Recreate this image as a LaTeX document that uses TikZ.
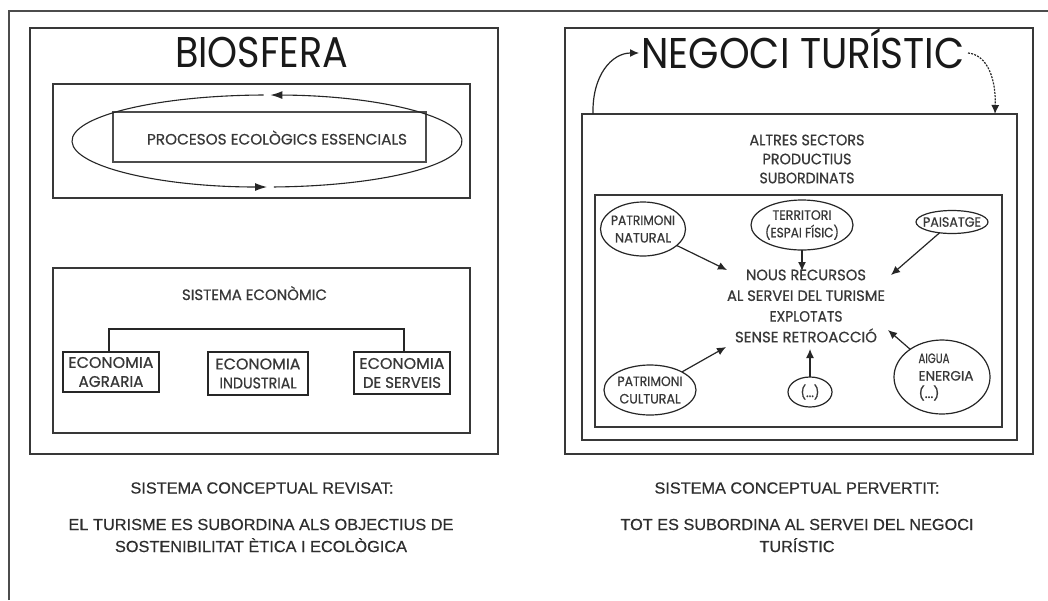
\documentclass[tikz,border=0pt]{standalone}
\usepackage{graphicx}
\usepackage{fontspec}
\setmainfont{Liberation Sans}
\newfontfamily\capfont[FakeBold=0.5]{Liberation Sans}
\newfontfamily\geoT{Poppins}
\newfontfamily\geo[FakeBold=0.6]{Poppins}
\newcommand{\fw}[2]{\resizebox{#1pt}{\height}{#2}}
\usetikzlibrary{arrows.meta,shapes.geometric,calc}
\begin{document}
\begin{tikzpicture}[x=1pt,y=1pt,
  frame/.style={draw=black!78, line width=1.6pt, inner sep=0pt, outer sep=0pt},
  smallbox/.style={draw=black!85, line width=1.4pt, inner sep=0pt, outer sep=0pt, align=center,
     font=\geo\fontsize{15.5}{19}\selectfont, text=black!78},
  ell/.style={draw=black!85, ellipse, line width=1.2pt, inner sep=0pt, outer sep=0pt},
  etxt/.style={font=\geo\fontsize{13.5}{17.5}\selectfont, text=black!78, align=center, inner sep=0pt},
  mtxt/.style={font=\geo\fontsize{15}{16}\selectfont, text=black!78, align=center, inner sep=0pt},
  bigtitle/.style={font=\geoT\fontsize{43}{46}\selectfont, text=black!90, inner sep=1pt},
  captxt/.style={font=\capfont\fontsize{16}{22}\selectfont, text=black!82, align=center, inner sep=0pt},
  arr/.style={line width=1.2pt, draw=black!85, -{Latex[length=9pt,width=8pt]}},
  looparr/.style={line width=1.1pt, draw=black!85, -{Latex[length=12pt,width=8pt]}}]
\useasboundingbox (0,0) rectangle (1048,-600);
\fill[white] (0,0) rectangle (1048,-600);
% outer frame
\draw[black!70, line width=1.8pt] (9,-600) -- (9,-11) -- (1048,-11);

% ---------- left ----------
\node[frame, minimum width=468, minimum height=426] (lbox) at (264,-241) {};
\node[bigtitle, anchor=base] (bio) at (261.5,-67) {\fw{173}{BIOSFERA}};
\node[frame, minimum width=417, minimum height=114] (upbox) at (261.5,-141) {};
\node[draw=black!70, line width=1.2pt, inner sep=0pt, minimum width=313, minimum height=50] (proc) at (269.5,-137) {};
\node[mtxt, anchor=base] (proctxt) at (277,-144.5) {\fw{260}{PROCESOS ECOLÒGICS ESSENCIALS}};
\coordinate (ec) at (267,-141);
\draw[looparr] ($(ec)+(-88:195 and 46)$) arc[start angle=-88, end angle=89, x radius=195, y radius=46];
\draw[looparr] ($(ec)+(91:195 and 46)$) arc[start angle=91, end angle=270, x radius=195, y radius=46];

\node[frame, minimum width=417, minimum height=165] (sysbox) at (261.5,-350.5) {};
\node[mtxt, anchor=base] (sis) at (254.5,-300) {\fw{145}{SISTEMA ECONÒMIC}};
\node[smallbox, minimum width=96, minimum height=40] (agr) at (111,-372) {\fw{85}{ECONOMIA}\\\fw{65}{AGRARIA}};
\node[smallbox, minimum width=100, minimum height=43] (ind) at (258,-373.5) {\fw{85}{ECONOMIA}\\\fw{77}{INDUSTRIAL}};
\node[smallbox, minimum width=96, minimum height=42] (ser) at (402,-373) {\fw{85}{ECONOMIA}\\\fw{78}{DE SERVEIS}};
\draw[black!85, line width=1.3pt] ($(sis.south)+(1.5,-3)$) -- ($(sis.south)+(1.5,-3)$ |- ind.north);
\draw[black!85, line width=1.1pt] ($(agr.north)+(-2,0)$) -- ++(0,23) -| ($(ser.north)+(2,0)$);

\node[captxt] (c1) at (262,-488) {\fw{263}{SISTEMA CONCEPTUAL REVISAT:}};
\node[captxt] (c2) at (261,-535.5) {\fw{385}{EL TURISME ES SUBORDINA ALS OBJECTIUS DE}\\\fw{292}{SOSTENIBILITAT ÈTICA I ECOLÒGICA}};

% ---------- right ----------
\node[frame, minimum width=468, minimum height=426] (rbox) at (799,-241) {};
\node[frame, minimum width=435, minimum height=326] (mbox) at (799.5,-277) {};
\node[frame, minimum width=407, minimum height=232] (ibox) at (798.5,-311) {};
\node[bigtitle, anchor=base] (neg) at (803,-68) {\fw{323}{NEGOCI TURÍSTIC}};
\coordinate (s1) at (593,-114);
\coordinate (s2) at (995,-114);
\coordinate (n1) at (639,-53);
\coordinate (n2) at (968,-53);
\draw[arr] (s1) .. controls (592,-75) and (612,-53) .. (n1);
\draw[arr, dash pattern=on 2pt off 1.2pt] (n2) .. controls (988,-55) and (996,-80) .. (s2);

\node[mtxt, font=\geo\fontsize{15}{19}\selectfont] (alt) at (807,-159)
  {\fw{115}{ALTRES SECTORS}\\\fw{89}{PRODUCTIUS}\\\fw{95}{SUBORDINATS}};
\node[mtxt, font=\geo\fontsize{15}{20.7}\selectfont] (nous) at (806,-306)
  {\fw{120}{NOUS RECURSOS}\\\fw{158}{AL SERVEI DEL TURISME}\\\fw{73}{EXPLOTATS}\\\fw{142}{SENSE RETROACCIÓ}};

\node[ell, minimum width=85, minimum height=54, label={[etxt]center:\fw{64}{PATRIMONI}\\\fw{56}{NATURAL}}] (pn) at (643,-229) {};
\node[ell, minimum width=102, minimum height=50, label={[etxt]center:\fw{59}{TERRITORI}\\\fw{74}{(ESPAI FÍSIC)}}] (ter) at (802,-225) {};
\node[ell, minimum width=72, minimum height=23, label={[etxt]center:\fw{58}{PAISATGE}}] (pai) at (952,-222) {};
\node[ell, minimum width=92, minimum height=50, label={[etxt]center:\fw{65}{PATRIMONI}\\\fw{61}{CULTURAL}}] (pc) at (650,-390) {};
\node[ell, minimum width=44, minimum height=30, label={[etxt]center:\fw{19}{(...)}}] (dots) at (810,-392) {};
\node[ell, minimum width=96, minimum height=74, label={[etxt, align=left, xshift=4pt]center:\fw{31}{AIGUA}\\\fw{55}{ENERGIA}\\\fw{21}{(...)}}] (aig) at (942,-377) {};

\coordinate (tpn) at (727,-270);
\coordinate (tter) at (802,-271);
\coordinate (tpai) at (891,-275);
\coordinate (tpc) at (726,-347);
\coordinate (tdots) at (810,-349);
\coordinate (taig) at (888,-330);
\draw[arr] (pn) -- (tpn);
\draw[arr] (ter.south) -- (tter);
\draw[arr] (pai) -- (tpai);
\draw[arr] (pc) -- (tpc);
\draw[arr] (dots.north) -- (tdots);
\draw[arr] (aig) -- (taig);

\node[captxt] (c3) at (797,-488) {\fw{285}{SISTEMA CONCEPTUAL PERVERTIT:}};
\node[captxt] (c4) at (797,-535.5) {\fw{353}{TOT ES SUBORDINA AL SERVEI DEL NEGOCI}\\\fw{75}{TURÍSTIC}};
\end{tikzpicture}
\end{document}
